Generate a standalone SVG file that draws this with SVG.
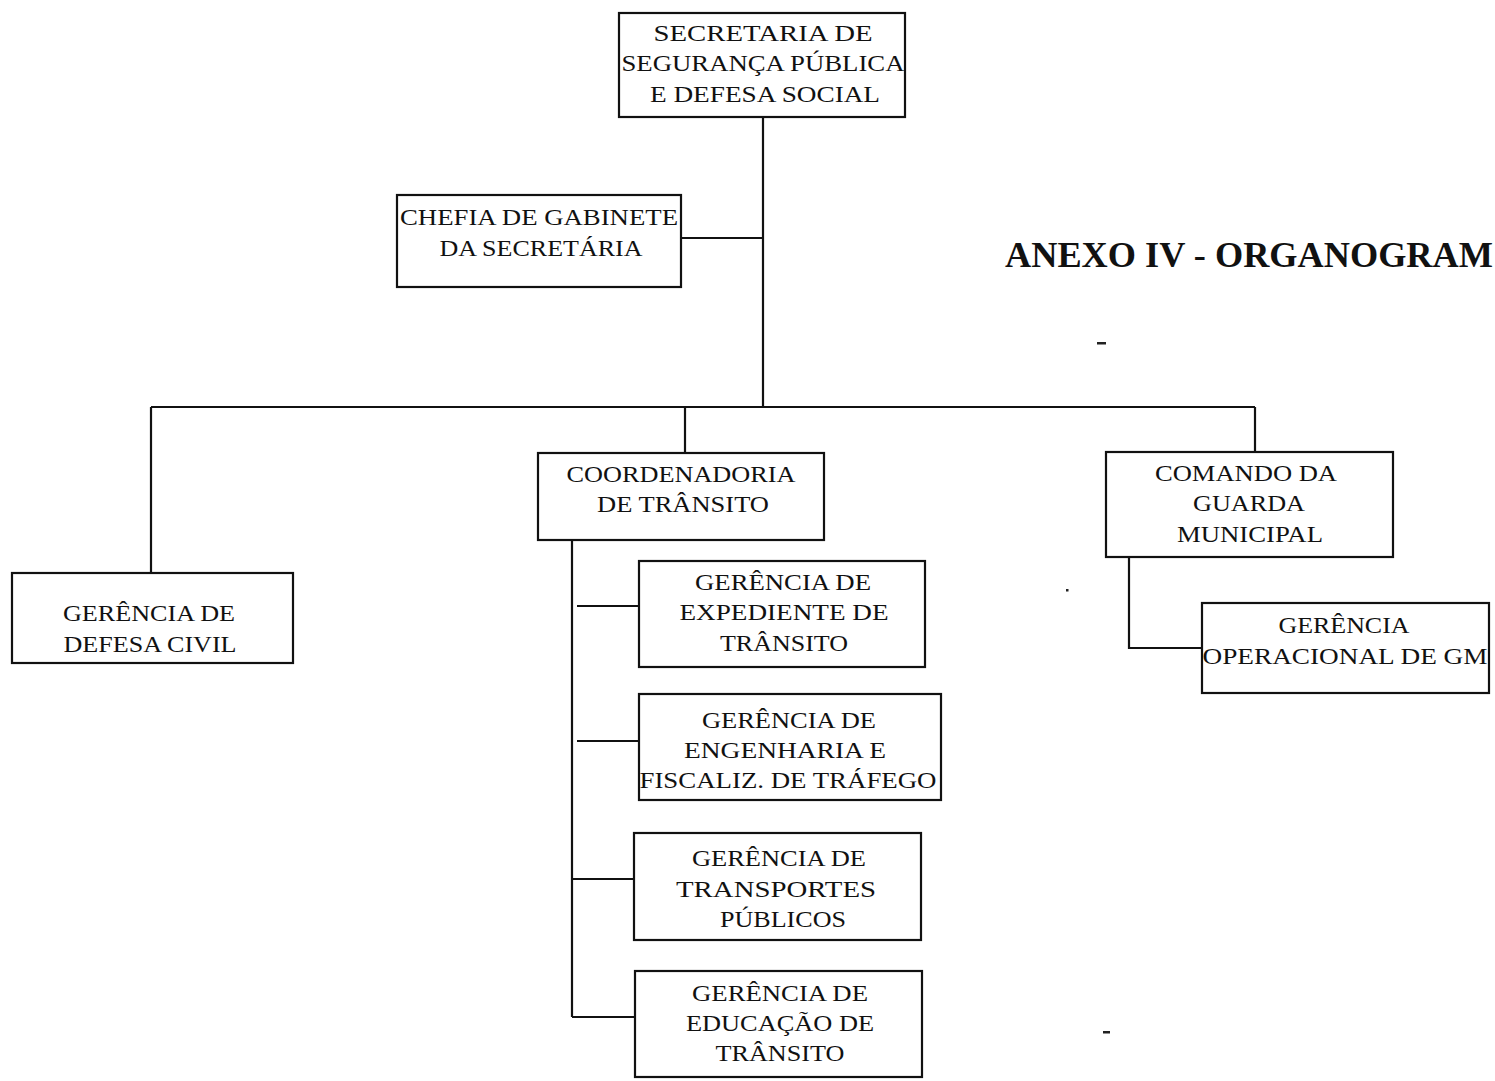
<svg xmlns="http://www.w3.org/2000/svg" width="1495" height="1081" viewBox="0 0 1495 1081">
  <style>
    .box { fill: #ffffff; stroke: #111111; stroke-width: 2.2; }
    .lbl { font-family: "Liberation Serif", "Times New Roman", serif; font-size: 24px; fill: #111111; text-anchor: middle; }
    .title { font-family: "Liberation Serif", "Times New Roman", serif; font-size: 35px; font-weight: bold; fill: #111111; }
    .wire { fill: none; stroke: #111111; stroke-width: 2.2; }
    .speck { fill: #222222; }
  </style>
  <rect x="0" y="0" width="1495" height="1081" fill="#ffffff"/>

  <!-- connectors -->
  <g id="connectors">
    <path class="wire" d="M763 117 V407"/>
    <path class="wire" d="M681 238 H763"/>
    <path class="wire" d="M151 407 H1255"/>
    <path class="wire" d="M151 407 V573"/>
    <path class="wire" d="M685 407 V453"/>
    <path class="wire" d="M1255 407 V452"/>
    <path class="wire" d="M572 540 V1017"/>
    <path class="wire" d="M577 606 H639"/>
    <path class="wire" d="M577 741 H639"/>
    <path class="wire" d="M572 879 H634"/>
    <path class="wire" d="M572 1017 H635"/>
    <path class="wire" d="M1129 557 V648 H1202"/>
  </g>

  <!-- top level -->
  <g id="secretaria">
    <rect class="box" x="619" y="13" width="286" height="104"/>
    <text class="lbl" x="763" y="41" textLength="219" lengthAdjust="spacingAndGlyphs">SECRETARIA  DE</text>
    <text class="lbl" x="763" y="71" textLength="283" lengthAdjust="spacingAndGlyphs">SEGURANÇA PÚBLICA</text>
    <text class="lbl" x="765" y="102" textLength="230" lengthAdjust="spacingAndGlyphs">E  DEFESA SOCIAL</text>
  </g>

  <g id="chefia">
    <rect class="box" x="397" y="195" width="284" height="92"/>
    <text class="lbl" x="539" y="225" textLength="278" lengthAdjust="spacingAndGlyphs">CHEFIA DE GABINETE</text>
    <text class="lbl" x="541" y="256" textLength="203" lengthAdjust="spacingAndGlyphs">DA SECRETÁRIA</text>
  </g>

  <g id="titulo">
    <text class="title" x="1005" y="267" textLength="488" lengthAdjust="spacingAndGlyphs">ANEXO IV - ORGANOGRAM</text>
  </g>

  <!-- second level -->
  <g id="defesa-civil">
    <rect class="box" x="12" y="573" width="281" height="90"/>
    <text class="lbl" x="149" y="621" textLength="172" lengthAdjust="spacingAndGlyphs">GERÊNCIA DE</text>
    <text class="lbl" x="150" y="652" textLength="173" lengthAdjust="spacingAndGlyphs">DEFESA CIVIL</text>
  </g>

  <g id="coordenadoria">
    <rect class="box" x="538" y="453" width="286" height="87"/>
    <text class="lbl" x="681" y="482" textLength="229" lengthAdjust="spacingAndGlyphs">COORDENADORIA</text>
    <text class="lbl" x="683" y="512" textLength="172" lengthAdjust="spacingAndGlyphs">DE TRÂNSITO</text>
  </g>

  <g id="comando">
    <rect class="box" x="1106" y="452" width="287" height="105"/>
    <text class="lbl" x="1246" y="481" textLength="182" lengthAdjust="spacingAndGlyphs">COMANDO DA</text>
    <text class="lbl" x="1249" y="511" textLength="112" lengthAdjust="spacingAndGlyphs">GUARDA</text>
    <text class="lbl" x="1250" y="542" textLength="146" lengthAdjust="spacingAndGlyphs">MUNICIPAL</text>
  </g>

  <!-- third level -->
  <g id="expediente">
    <rect class="box" x="639" y="561" width="286" height="106"/>
    <text class="lbl" x="783" y="590" textLength="176" lengthAdjust="spacingAndGlyphs">GERÊNCIA DE</text>
    <text class="lbl" x="784" y="620" textLength="209" lengthAdjust="spacingAndGlyphs">EXPEDIENTE  DE</text>
    <text class="lbl" x="784" y="651" textLength="128" lengthAdjust="spacingAndGlyphs">TRÂNSITO</text>
  </g>

  <g id="engenharia">
    <rect class="box" x="639" y="694" width="302" height="106"/>
    <text class="lbl" x="789" y="728" textLength="174" lengthAdjust="spacingAndGlyphs">GERÊNCIA DE</text>
    <text class="lbl" x="785" y="758" textLength="202" lengthAdjust="spacingAndGlyphs">ENGENHARIA  E</text>
    <text class="lbl" x="788" y="788" textLength="297" lengthAdjust="spacingAndGlyphs">FISCALIZ. DE TRÁFEGO</text>
  </g>

  <g id="transportes">
    <rect class="box" x="634" y="833" width="287" height="107"/>
    <text class="lbl" x="779" y="866" textLength="174" lengthAdjust="spacingAndGlyphs">GERÊNCIA DE</text>
    <text class="lbl" x="776" y="897" textLength="200" lengthAdjust="spacingAndGlyphs">TRANSPORTES</text>
    <text class="lbl" x="783" y="927" textLength="126" lengthAdjust="spacingAndGlyphs">PÚBLICOS</text>
  </g>

  <g id="educacao">
    <rect class="box" x="635" y="971" width="287" height="106"/>
    <text class="lbl" x="780" y="1001" textLength="176" lengthAdjust="spacingAndGlyphs">GERÊNCIA DE</text>
    <text class="lbl" x="780" y="1031" textLength="188" lengthAdjust="spacingAndGlyphs">EDUCAÇÃO DE</text>
    <text class="lbl" x="780" y="1061" textLength="129" lengthAdjust="spacingAndGlyphs">TRÂNSITO</text>
  </g>

  <g id="operacional">
    <rect class="box" x="1202" y="603" width="287" height="90"/>
    <text class="lbl" x="1344" y="633" textLength="131" lengthAdjust="spacingAndGlyphs">GERÊNCIA</text>
    <text class="lbl" x="1345" y="664" textLength="285" lengthAdjust="spacingAndGlyphs">OPERACIONAL DE GM</text>
  </g>

  <!-- loose marks on the sheet -->
  <rect class="speck" x="1097" y="342" width="9" height="2.5"/>
  <rect class="speck" x="1066" y="589" width="2.5" height="2.5"/>
  <rect class="speck" x="1103" y="1031" width="7" height="2.5"/>
</svg>
